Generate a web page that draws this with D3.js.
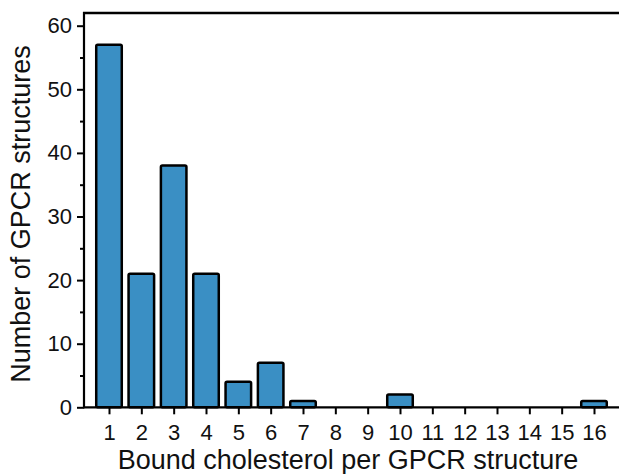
<!DOCTYPE html>
<html>
<head>
<meta charset="utf-8">
<script src="https://cdn.jsdelivr.net/npm/d3@7"></script>
<style>
  body { margin: 0; background: #fff; }
  text { font-family: "Liberation Sans", Arimo, Arial, sans-serif; fill: #111; }
</style>
</head>
<body>
<div id="plot"></div>
<script>
const w = 619;
const h = 474;

// bound cholesterol count per structure, and number of structures
const categories = [1, 2, 3, 4, 5, 6, 7, 8, 9, 10, 11, 12, 13, 14, 15, 16];
const counts = [57, 21, 38, 21, 4, 7, 1, 0, 0, 2, 0, 0, 0, 0, 0, 1];
const yTicks = [0, 10, 20, 30, 40, 50, 60];
const yMinor = [5, 15, 25, 35, 45, 55];

const xScale = d3.scaleLinear().domain([1, 16]).range([109, 594]);
const yScale = d3.scaleLinear().domain([0, 60]).range([407.3, 25.7]);

const svg = d3.select("#plot").append("svg")
  .attr("width", w)
  .attr("height", h);

const barW = xScale(1.79) - xScale(1);

// bars
svg.selectAll("rect.bar")
  .data(categories.filter((c, i) => counts[i] > 0))
  .enter()
  .append("rect")
  .attr("class", "bar")
  .attr("x", d => xScale(d) - barW / 2)
  .attr("y", d => yScale(counts[d - 1]))
  .attr("width", barW)
  .attr("height", d => yScale(0) - yScale(counts[d - 1]))
  .attr("rx", 1.5)
  .attr("fill", "#3a8fc4")
  .attr("stroke", "#000")
  .attr("stroke-width", 2.5);

// x axis
const xAxis = d3.axisBottom(xScale)
  .tickValues(categories)
  .tickFormat(d3.format("d"))
  .tickSize(7)
  .tickPadding(10);

const gx = svg.append("g")
  .attr("transform", "translate(0," + yScale(0) + ")")
  .call(xAxis);
gx.select(".domain").remove();
gx.selectAll(".tick line").attr("stroke", "#000").attr("stroke-width", 2);
gx.selectAll(".tick text").style("font-size", "22px");

// y axis
const yAxis = d3.axisLeft(yScale)
  .tickValues(yTicks)
  .tickSize(7)
  .tickPadding(5);

const gy = svg.append("g")
  .attr("transform", "translate(84,0)")
  .call(yAxis);
gy.select(".domain").remove();
gy.selectAll(".tick line").attr("stroke", "#000").attr("stroke-width", 2);
gy.selectAll(".tick text").style("font-size", "22px");

const gyMinor = svg.append("g")
  .attr("transform", "translate(84,0)")
  .call(d3.axisLeft(yScale).tickValues(yMinor).tickSize(4).tickFormat(""));
gyMinor.select(".domain").remove();
gyMinor.selectAll(".tick line").attr("stroke", "#000").attr("stroke-width", 2);

// frame lines
const topY = yScale(62);
svg.append("line")
  .attr("x1", 84).attr("x2", w)
  .attr("y1", yScale(0)).attr("y2", yScale(0))
  .attr("stroke", "#000").attr("stroke-width", 2.2);
svg.append("line")
  .attr("x1", 84).attr("x2", 84)
  .attr("y1", topY - 1).attr("y2", yScale(0) + 1)
  .attr("stroke", "#000").attr("stroke-width", 2.2);
svg.append("line")
  .attr("x1", 83).attr("x2", w)
  .attr("y1", topY).attr("y2", topY)
  .attr("stroke", "#000").attr("stroke-width", 2.5);

// axis titles
svg.append("text")
  .attr("x", 348)
  .attr("y", 469)
  .attr("text-anchor", "middle")
  .style("font-size", "27px")
  .text("Bound cholesterol per GPCR structure");

svg.append("text")
  .attr("transform", "translate(30,214) rotate(-90)")
  .attr("text-anchor", "middle")
  .style("font-size", "27px")
  .text("Number of GPCR structures");
</script>
</body>
</html>
